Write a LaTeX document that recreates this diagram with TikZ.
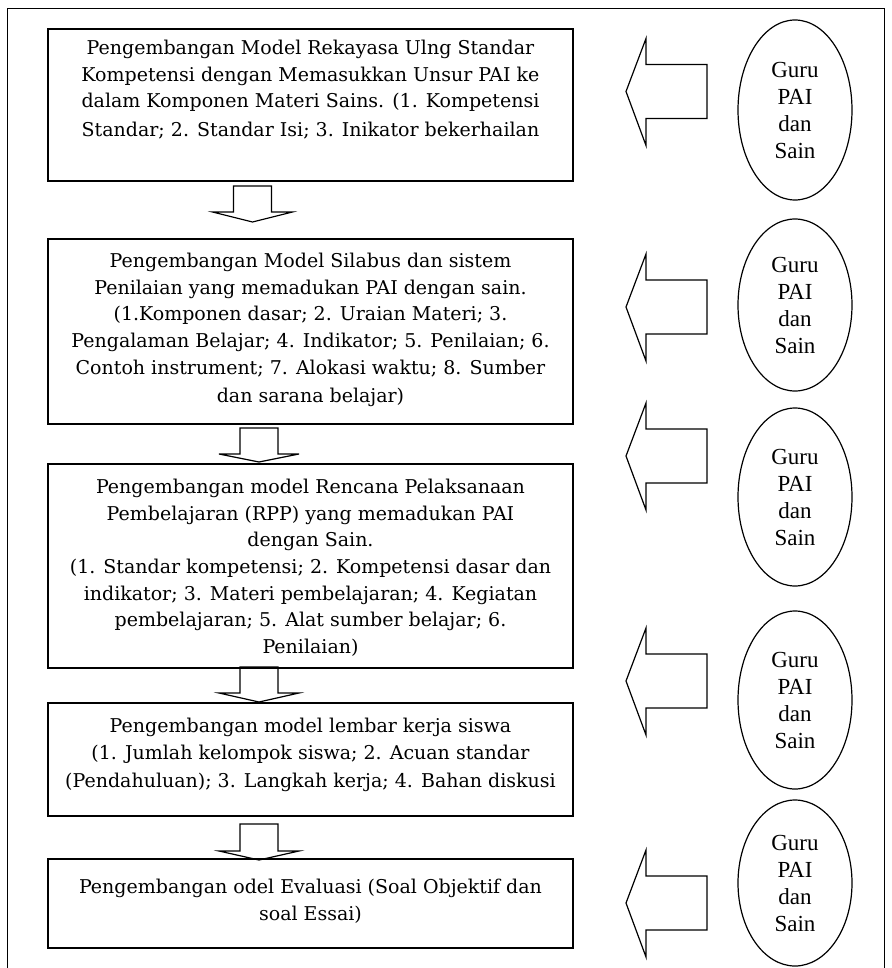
\documentclass[tikz,border=0pt]{standalone}
\usepackage{fontspec}
\setmainfont{DejaVu Serif}
\newfontfamily\ellfont{Liberation Serif}
\usetikzlibrary{shapes.geometric}

% block arrow pointing down: centre x, shaft top, head base, tip
\newcommand\DownBlock[4]{%
  \draw[blockarrow] (#1-19,#2) -- (#1-19,#3) -- (#1-40,#3) -- (#1,#4)
    -- (#1+40,#3) -- (#1+19,#3) -- (#1+19,#2) -- cycle;}
% block arrow pointing left, centred on y
\newcommand\LeftBlock[1]{%
  \draw[blockarrow] (626,#1) -- (646,#1-53) -- (646,#1-27) -- (707,#1-27)
    -- (707,#1+27) -- (646,#1+27) -- (646,#1+54) -- cycle;}

\begin{document}
\begin{tikzpicture}[x=1pt,y=-1pt,
  stagebox/.style={draw, line width=1.7pt, minimum width=525pt, inner sep=0pt, anchor=north},
  stagetext/.style={align=center, anchor=north, inner sep=0pt,
    font=\fontsize{19}{26.6}\selectfont},
  actor/.style={draw, ellipse, line width=1.2pt, minimum width=114pt, inner sep=0pt,
    align=center, font=\ellfont\fontsize{23}{27}\selectfont},
  blockarrow/.style={draw, line width=1.2pt, line join=miter}]
\useasboundingbox (0,0) rectangle (891,968);

% outer frame (open at the bottom)
\draw[line width=0.9pt] (7,980) -- (7,8) -- (884,8) -- (884,980);

% stage boxes
\node[stagebox, minimum height=152pt] (b1) at (310.5,28) {};
\node[stagebox, minimum height=185pt] (b2) at (310.5,238) {};
\node[stagebox, minimum height=204pt] (b3) at (310.5,463) {};
\node[stagebox, minimum height=113pt] (b4) at (310.5,702) {};
\node[stagebox, minimum height=89pt]  (b5) at (310.5,858) {};

\node[stagetext] (t1) at ([yshift=-12pt]b1.north) {Pengembangan Model Rekayasa Ulng Standar\\
  Kompetensi dengan Memasukkan Unsur PAI ke\\
  dalam Komponen Materi Sains. (1. Kompetensi\\[2pt]
  Standar; 2. Standar Isi; 3. Inikator bekerhailan};
\node[stagetext] (t2) at ([yshift=-15pt]b2.north) {Pengembangan Model Silabus dan sistem\\
  Penilaian yang memadukan PAI dengan sain.\\
  (1.Komponen dasar; 2. Uraian Materi; 3.\\
  Pengalaman Belajar; 4. Indikator; 5. Penilaian; 6.\\
  Contoh instrument; 7. Alokasi waktu; 8. Sumber\\[2pt]
  dan sarana belajar)};
\node[stagetext] (t3) at ([yshift=-16pt]b3.north) {Pengembangan model Rencana Pelaksanaan\\
  Pembelajaran (RPP) yang memadukan PAI\\
  dengan Sain.\\
  (1. Standar kompetensi; 2. Kompetensi dasar dan\\
  indikator; 3. Materi pembelajaran; 4. Kegiatan\\
  pembelajaran; 5. Alat sumber belajar; 6.\\
  Penilaian)};
\node[stagetext] (t4) at ([yshift=-16pt]b4.north) {Pengembangan model lembar kerja siswa\\
  (1. Jumlah kelompok siswa; 2. Acuan standar\\[2pt]
  (Pendahuluan); 3. Langkah kerja; 4. Bahan diskusi};
\node[stagetext] (t5) at ([yshift=-21pt]b5.north) {Pengembangan odel Evaluasi (Soal Objektif dan\\
  soal Essai)};

% downward block arrows between the stages
\DownBlock{252.5}{186}{212}{222}
\DownBlock{259}{428}{454}{462}
\DownBlock{259}{667}{693}{702}
\DownBlock{259}{824}{851}{860}

% actors on the right
\node[actor, minimum height=180pt] (g1) at (795,110) {Guru\\PAI\\dan\\Sain};
\node[actor, minimum height=172pt] (g2) at (795,305) {Guru\\PAI\\dan\\Sain};
\node[actor, minimum height=178pt] (g3) at (795,497) {Guru\\PAI\\dan\\Sain};
\node[actor, minimum height=178pt] (g4) at (795,700) {Guru\\PAI\\dan\\Sain};
\node[actor, minimum height=166pt] (g5) at (795,883) {Guru\\PAI\\dan\\Sain};

% leftward block arrows from the actors
\LeftBlock{91.5}
\LeftBlock{307}
\LeftBlock{456}
\LeftBlock{681}
\LeftBlock{903}
\end{tikzpicture}
\end{document}
